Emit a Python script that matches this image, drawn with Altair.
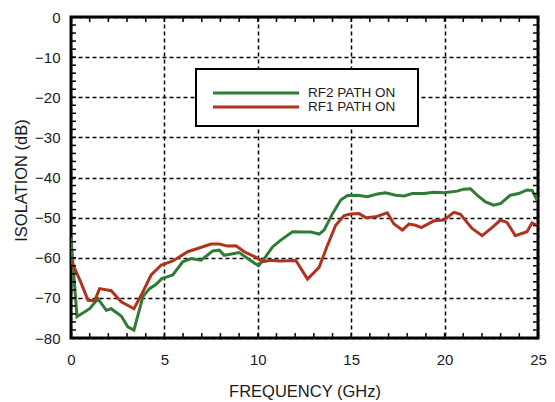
import altair as alt
import pandas as pd

# ---- data ----
series_names = ["RF2 PATH ON", "RF1 PATH ON"]
series_colors = ["#2f7d34", "#b3321f"]

rf2_freq = [0, 0.32, 1.0, 1.44, 1.89, 2.15, 2.69, 3.04, 3.37, 3.85, 4.2, 4.56, 4.86,
            5.45, 5.98, 6.43, 6.96, 7.59, 7.94, 8.2, 9.01, 9.46, 10.04, 10.35, 10.79,
            11.23, 11.86, 12.57, 12.84, 13.28, 13.55, 14.0, 14.44, 14.8, 15.33, 15.87,
            16.4, 16.84, 17.38, 17.83, 18.27, 18.89, 19.43, 19.96, 20.67, 21.03, 21.38,
            21.74, 22.19, 22.63, 22.99, 23.52, 23.97, 24.41, 24.68, 24.95]
rf2_iso = [-55.0, -74.7, -72.7, -70.2, -73.1, -72.7, -74.5, -77.2, -78.0, -69.7, -67.7,
           -66.6, -65.2, -64.3, -61.0, -60.2, -60.6, -58.3, -58.1, -59.4, -58.7, -60.2,
           -62.0, -60.2, -57.3, -55.6, -53.5, -53.6, -53.6, -54.1, -53.1, -49.0, -45.6,
           -44.5, -44.4, -44.8, -44.1, -43.8, -44.4, -44.6, -44.0, -44.0, -43.7, -43.8,
           -43.4, -42.9, -42.8, -44.4, -46.1, -46.9, -46.5, -44.4, -44.0, -43.1, -43.2,
           -45.6]

rf1_freq = [0, 0.55, 0.91, 1.27, 1.53, 2.15, 2.69, 3.37, 3.76, 4.29, 4.83, 5.45, 6.25,
            6.78, 7.5, 7.94, 8.39, 8.83, 9.28, 9.9, 10.26, 10.7, 11.15, 12.04, 12.66,
            13.28, 13.73, 14.17, 14.62, 14.97, 15.42, 15.78, 16.31, 16.93, 17.29, 17.74,
            18.09, 18.45, 18.75, 19.43, 19.96, 20.5, 20.85, 21.47, 22.01, 22.54, 22.99,
            23.34, 23.79, 24.41, 24.68, 24.95]
rf1_iso = [-60.6, -66.4, -70.6, -70.7, -67.7, -68.2, -71.0, -72.7, -69.3, -64.3, -61.8,
           -60.8, -58.5, -57.7, -56.6, -56.6, -57.1, -57.0, -58.5, -59.9, -61.0, -60.6,
           -60.8, -60.7, -65.3, -62.4, -56.9, -51.9, -49.5, -49.1, -49.0, -50.0, -49.8,
           -48.8, -51.6, -53.1, -51.6, -51.9, -52.5, -50.8, -50.6, -48.7, -49.2, -52.7,
           -54.5, -52.5, -50.6, -51.2, -54.5, -53.5, -51.3, -51.9]

x_major = [0, 5, 10, 15, 20, 25]
y_major = [0, -10, -20, -30, -40, -50, -60, -70, -80]
x_minor = list(range(1, 25))
y_minor = list(range(-78, 0, 2))

W, H = 467, 321
FONT = "Liberation Sans"

df = pd.concat([
    pd.DataFrame({"freq": rf2_freq, "iso": rf2_iso, "series": series_names[0]}),
    pd.DataFrame({"freq": rf1_freq, "iso": rf1_iso, "series": series_names[1]}),
])

xs = alt.Scale(domain=[0, 25], nice=False, zero=False)
ys = alt.Scale(domain=[-80, 0], nice=False, zero=False)

xaxis = alt.Axis(values=x_major, title="FREQUENCY (GHz)", grid=True, ticks=False,
                 domain=False, labelFontSize=15, labelPadding=14, labelColor="#1a1a1a",
                 labelFlush=False, labelOverlap=False,
                 titleFontSize=16.5, titleFontWeight="normal", titleColor="#1a1a1a",
                 titleBaseline="alphabetic", titleY=58, format="d")
yaxis = alt.Axis(values=y_major, title="ISOLATION  (dB)", grid=True, ticks=False,
                 domain=False, labelFontSize=15, labelPadding=11, labelColor="#1a1a1a",
                 labelFlush=False, labelOverlap=False,
                 titleFontSize=16.5, titleFontWeight="normal", titleColor="#1a1a1a",
                 titleX=-50, titleY=163, titleBaseline="middle", titleAngle=-90,
                 format="d")

lines = alt.Chart(df).mark_line(strokeWidth=3, clip=True).encode(
    x=alt.X("freq:Q", scale=xs, axis=xaxis),
    y=alt.Y("iso:Q", scale=ys, axis=yaxis),
    color=alt.Color("series:N", scale=alt.Scale(domain=series_names, range=series_colors),
                    legend=None),
    order=alt.Order("freq:Q"),
)

xt = pd.DataFrame({"t": x_minor})
yt = pd.DataFrame({"t": y_minor})
tick_style = dict(color="black", strokeWidth=1.5)
bottom_ticks = alt.Chart(xt).mark_rule(**tick_style).encode(
    x=alt.X("t:Q", scale=xs), y=alt.value(H), y2=alt.value(H - 5))
top_ticks = alt.Chart(xt).mark_rule(**tick_style).encode(
    x=alt.X("t:Q", scale=xs), y=alt.value(0), y2=alt.value(5))
left_ticks = alt.Chart(yt).mark_rule(**tick_style).encode(
    y=alt.Y("t:Q", scale=ys), x=alt.value(0), x2=alt.value(5))
right_ticks = alt.Chart(yt).mark_rule(**tick_style).encode(
    y=alt.Y("t:Q", scale=ys), x=alt.value(W), x2=alt.value(W - 5))

# legend box
one = pd.DataFrame({"a": [0]})
box = alt.Chart(one).mark_rect(fill="white", stroke="black", strokeWidth=2).encode(
    x=alt.value(125), x2=alt.value(347), y=alt.value(52), y2=alt.value(109))
legend_layers = [box]
for i, (name, col) in enumerate(zip(series_names, series_colors)):
    yy = 76 + 14 * i
    legend_layers.append(
        alt.Chart(one).mark_rule(color=col, strokeWidth=3).encode(
            x=alt.value(142), x2=alt.value(228), y=alt.value(yy)))
    legend_layers.append(
        alt.Chart(one).mark_text(text=name, align="left", baseline="middle",
                                 fontSize=13.5, font=FONT, color="#1a1a1a").encode(
            x=alt.value(237), y=alt.value(yy)))

chart = alt.layer(
    lines, bottom_ticks, top_ticks, left_ticks, right_ticks, *legend_layers
).properties(
    width=W, height=H,
    autosize=alt.AutoSizeParams(type="none"),
    padding={"left": 63, "top": 9, "right": 9, "bottom": 64},
).configure(font=FONT).configure_view(
    stroke="black", strokeWidth=3
).configure_axis(
    gridColor="black", gridDash=[4, 3], gridWidth=1.5, gridOpacity=1,
)

chart.save("out.html", embed_options={"renderer": "svg", "actions": False})
